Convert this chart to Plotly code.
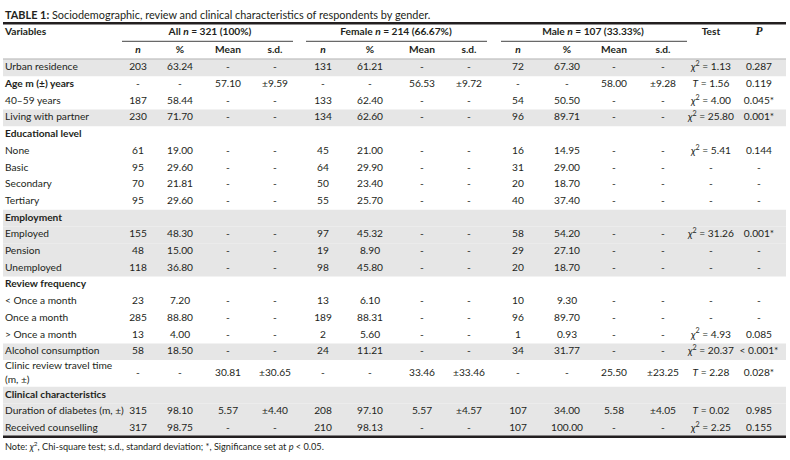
import plotly.graph_objects as go

# ---------------- data ----------------
labels = ["Urban residence", "Age m (±) years", "40–59 years", "Living with partner",
          "Educational level", "None", "Basic", "Secondary", "Tertiary",
          "Employment", "Employed", "Pension", "Unemployed",
          "Review frequency", "< Once a month", "Once a month", "> Once a month",
          "Alcohol consumption", "Clinic review travel time<br>(m, ±)",
          "Clinical characteristics", "Duration of diabetes (m, ±)", "Received counselling"]
bold_rows = [1, 4, 9, 13, 19]
gray_rows = [0, 3, 9, 10, 11, 12, 17, 19, 20, 21]

all_n = ["203", "-", "187", "230", "", "61", "95", "70", "95", "", "155", "48", "118", "", "23", "285", "13", "58", "-", "", "315", "317"]
all_pct = ["63.24", "-", "58.44", "71.70", "", "19.00", "29.60", "21.81", "29.60", "", "48.30", "15.00", "36.80", "", "7.20", "88.80", "4.00", "18.50", "-", "", "98.10", "98.75"]
all_mean = ["-", "57.10", "-", "-", "", "-", "-", "-", "-", "", "-", "-", "-", "", "-", "-", "-", "-", "30.81", "", "5.57", "-"]
all_sd = ["-", "±9.59", "-", "-", "", "-", "-", "-", "-", "", "-", "-", "-", "", "-", "-", "-", "-", "±30.65", "", "±4.40", "-"]

fem_n = ["131", "-", "133", "134", "", "45", "64", "50", "55", "", "97", "19", "98", "", "13", "189", "2", "24", "-", "", "208", "210"]
fem_pct = ["61.21", "-", "62.40", "62.60", "", "21.00", "29.90", "23.40", "25.70", "", "45.32", "8.90", "45.80", "", "6.10", "88.31", "5.60", "11.21", "-", "", "97.10", "98.13"]
fem_mean = ["-", "56.53", "-", "-", "", "-", "-", "-", "-", "", "-", "-", "-", "", "-", "-", "-", "-", "33.46", "", "5.57", "-"]
fem_sd = ["-", "±9.72", "-", "-", "", "-", "-", "-", "-", "", "-", "-", "-", "", "-", "-", "-", "-", "±33.46", "", "±4.57", "-"]

male_n = ["72", "-", "54", "96", "", "16", "31", "20", "40", "", "58", "29", "20", "", "10", "96", "1", "34", "-", "", "107", "107"]
male_pct = ["67.30", "-", "50.50", "89.71", "", "14.95", "29.00", "18.70", "37.40", "", "54.20", "27.10", "18.70", "", "9.30", "89.70", "0.93", "31.77", "-", "", "34.00", "100.00"]
male_mean = ["-", "58.00", "-", "-", "", "-", "-", "-", "-", "", "-", "-", "-", "", "-", "-", "-", "-", "25.50", "", "5.58", "-"]
male_sd = ["-", "±9.28", "-", "-", "", "-", "-", "-", "-", "", "-", "-", "-", "", "-", "-", "-", "-", "±23.25", "", "±4.05", "-"]

CHI = "<i>χ</i><sup>2</sup>"
TT = "<i>T</i>"
test = [CHI + " = 1.13", TT + " = 1.56", CHI + " = 4.00", CHI + " = 25.80", "", CHI + " = 5.41", "-", "-", "-", "",
        CHI + " = 31.26", "-", "-", "", "-", "-", CHI + " = 4.93", CHI + " = 20.37", TT + " = 2.28", "",
        TT + " = 0.02", CHI + " = 2.25"]
pval = ["0.287", "0.119", "0.045*", "0.001*", "", "0.144", "-", "-", "-", "", "0.001*", "-", "-", "",
        "-", "-", "0.085", "< 0.001*", "0.028*", "", "0.985", "0.155"]

title = "<b>TABLE 1:</b> Sociodemographic, review and clinical characteristics of respondents by gender."
note = "Note: <i>χ</i><sup>2</sup>, Chi-square test; s.d., standard deviation; *, Significance set at <i>p</i> < 0.05."
groups = ["All <i>n</i> = 321 (100%)", "Female <i>n</i> = 214 (66.67%)", "Male <i>n</i> = 107 (33.33%)"]
subheads = ["<i>n</i>", "%", "Mean", "s.d."]

# ---------------- layout constants ----------------
W, H = 790, 460
FONT = "Lato"
FS = 10.2
COL = "#231f20"
GRAY = "#e6e6e6"
ROW_H = 16.7
TALL_H = 26.6
Y0 = 59.5

heights = [TALL_H if "<br>" in l else ROW_H for l in labels]
tops = []
y = Y0
for h in heights:
    tops.append(y)
    y += h
bottom = y
centers = [t + h / 2 for t, h in zip(tops, heights)]

col_x = {
    "all": [138, 180, 228, 275],
    "fem": [323, 370, 422, 469],
    "male": [518, 567, 614, 663],
}
test_x, p_x = 711, 759
group_spans = [(122, 293), (306, 487), (501, 687)]
group_centers = [210, 396, 593]
LX = 5

fig = go.Figure()

def add_text(xs, ys, texts, pos="middle center", size=FS, family=FONT, color=COL):
    fig.add_trace(go.Scatter(x=xs, y=ys, text=texts, mode="text", textposition=pos,
                             textfont=dict(family=family, size=size, color=color),
                             hoverinfo="skip", showlegend=False, cliponaxis=False))

# labels
lab_txt = [("<b>%s</b>" % l if i in bold_rows else l) for i, l in enumerate(labels)]
add_text([LX] * len(labels), centers, lab_txt, pos="middle right")

# value columns
for key, cols in (("all", [all_n, all_pct, all_mean, all_sd]),
                  ("fem", [fem_n, fem_pct, fem_mean, fem_sd]),
                  ("male", [male_n, male_pct, male_mean, male_sd])):
    for x, vals in zip(col_x[key], cols):
        add_text([x] * len(vals), centers, vals)
add_text([test_x] * len(test), centers, test)
add_text([p_x] * len(pval), centers, pval)

# headers
add_text([LX], [32.3], ["<b>Variables</b>"], pos="middle right")
add_text(group_centers, [32.3] * 3, ["<b>%s</b>" % g for g in groups])
add_text([test_x], [32.3], ["<b>Test</b>"])
add_text([p_x], [32.3], ["<b><i>P</i></b>"], family="Liberation Serif", size=11.5)
for key in ("all", "fem", "male"):
    add_text(col_x[key], [50] * 4, ["<b>%s</b>" % s for s in subheads])

# title & note
add_text([LX], [16.5], [title], pos="middle right", size=10.9)
add_text([LX], [447.5], [note], pos="middle right", size=9.2)

shapes = []
for i in gray_rows:
    shapes.append(dict(type="rect", xref="x", yref="y", x0=3, x1=786, y0=tops[i], y1=tops[i] + heights[i],
                       fillcolor=GRAY, line=dict(width=0), layer="below"))
shapes.append(dict(type="line", xref="x", yref="y", x0=3, x1=786, y0=23.3, y1=23.3,
                   line=dict(color=COL, width=2.5)))
shapes.append(dict(type="line", xref="x", yref="y", x0=3, x1=786, y0=bottom, y1=bottom,
                   line=dict(color=COL, width=2.5)))
shapes.append(dict(type="line", xref="x", yref="y", x0=3, x1=786, y0=Y0 - 0.5, y1=Y0 - 0.5,
                   line=dict(color="#9a9a9a", width=0.8)))
for a, b in group_spans:
    shapes.append(dict(type="line", xref="x", yref="y", x0=a, x1=b, y0=41.3, y1=41.3,
                       line=dict(color="#444444", width=1)))

fig.update_layout(
    width=W, height=H, margin=dict(l=0, r=0, t=0, b=0),
    paper_bgcolor="white", plot_bgcolor="white",
    xaxis=dict(range=[0, W], visible=False, fixedrange=True),
    yaxis=dict(range=[H, 0], visible=False, fixedrange=True),
    shapes=shapes,
)
fig.write_html("out.html", config={"displayModeBar": False},
               post_script="document.body.style.margin='0px';")
